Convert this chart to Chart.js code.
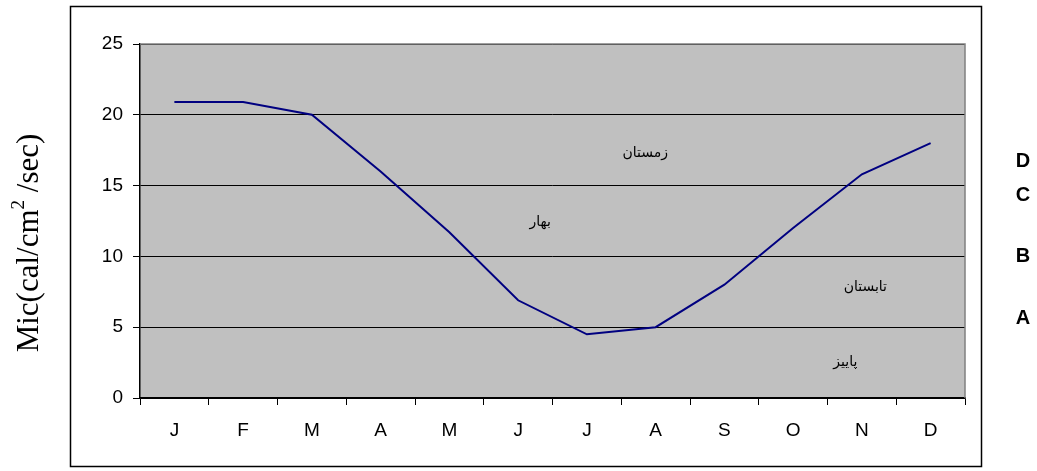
<!DOCTYPE html>
<html>
<head>
<meta charset="utf-8">
<script src="https://cdn.jsdelivr.net/npm/chart.js"></script>
<style>
  html, body { margin: 0; padding: 0; background: #fff; overflow: hidden; }
  #chart { display: block; }
</style>
</head>
<body>
<canvas id="chart" width="1037" height="471"></canvas>
<script>
var months = ['J', 'F', 'M', 'A', 'M', 'J', 'J', 'A', 'S', 'O', 'N', 'D']
var micValues = [20.9, 20.9, 20.0, 16.0, 11.7, 6.9, 4.5, 5.0, 8.0, 12.0, 15.8, 18.0]
var yTicks = [0, 5, 10, 15, 20, 25]

// seasons written inside the plot, at category index / value
var seasonNames = ['زمستان', 'بهار', 'تابستان', 'پاییز']
var seasonX = [6.85, 5.32, 10.05, 9.76]
var seasonY = [17.3, 12.4, 7.8, 2.5]

// letters at the right side, placed at a value on the y scale
var sideLetters = ['D', 'C', 'B', 'A']
var sideLetterY = [16.7, 14.3, 10.0, 5.6]

var decorPlugin = {
  id: 'decor',
  beforeDraw: function (chart) {
    var ctx = chart.ctx
    var a = chart.chartArea
    ctx.save()
    ctx.fillStyle = '#c0c0c0'
    ctx.fillRect(a.left, a.top, a.right - a.left, a.bottom - a.top)
    ctx.restore()
  },
  afterDraw: function (chart) {
    var ctx = chart.ctx
    var a = chart.chartArea
    var xs = chart.scales.x
    var ys = chart.scales.y
    ctx.save()
    // plot frame top and right
    ctx.strokeStyle = '#808080'
    ctx.lineWidth = 1.5
    ctx.beginPath()
    ctx.moveTo(a.left, a.top)
    ctx.lineTo(a.right, a.top)
    ctx.lineTo(a.right, a.bottom)
    ctx.stroke()
    // outer box
    ctx.strokeStyle = '#000'
    ctx.lineWidth = 1.5
    ctx.strokeRect(70.5, 6.5, 911, 460)

    ctx.fillStyle = '#000'
    ctx.font = '14px "DejaVu Sans"'
    ctx.textAlign = 'center'
    ctx.textBaseline = 'middle'
    for (var i = 0; i < seasonNames.length; i++) {
      var px = xs.getPixelForValue(seasonX[i])
      ctx.fillText(seasonNames[i], px, ys.getPixelForValue(seasonY[i]))
    }

    ctx.font = 'bold 20px "Liberation Sans", Arial'
    for (var j = 0; j < sideLetters.length; j++) {
      ctx.fillText(sideLetters[j], 1023, ys.getPixelForValue(sideLetterY[j]))
    }

    // y axis title with a raised 2
    var big = '31px "Liberation Serif", "Times New Roman"'
    var small = '19px "Liberation Serif", "Times New Roman"'
    var p1 = 'Mic(cal/cm'
    var p2 = '2'
    var p3 = ' /sec)'
    ctx.font = big
    var w1 = ctx.measureText(p1).width
    var w3 = ctx.measureText(p3).width
    ctx.font = small
    var w2 = ctx.measureText(p2).width
    var total = w1 + w2 + w3
    ctx.translate(38, 243 + total / 2)
    ctx.rotate(-Math.PI / 2)
    ctx.textAlign = 'left'
    ctx.textBaseline = 'alphabetic'
    ctx.font = big
    ctx.fillText(p1, 0, 0)
    ctx.font = small
    ctx.fillText(p2, w1, -14)
    ctx.font = big
    ctx.fillText(p3, w1 + w2, 0)
    ctx.restore()
  }
}

var ctx = document.getElementById('chart').getContext('2d')
new Chart(ctx, {
  type: 'line',
  data: {
    labels: months,
    datasets: [{
      label: 'Mic',
      data: micValues,
      borderColor: '#000080',
      borderWidth: 2,
      pointRadius: 0,
      tension: 0,
      fill: false
    }]
  },
  options: {
    responsive: false,
    animation: false,
    devicePixelRatio: 1,
    layout: { padding: { left: 0, right: 72, top: 44, bottom: 0 } },
    plugins: {
      legend: { display: false },
      tooltip: { enabled: false }
    },
    scales: {
      x: {
        offset: true,
        afterFit: function (scale) { scale.height = 73 },
        grid: {
          offset: true,
          drawOnChartArea: false,
          drawTicks: true,
          tickLength: 7,
          color: '#000',
          lineWidth: 1
        },
        border: { color: '#000', width: 1.5 },
        ticks: {
          color: '#000',
          padding: 14,
          maxRotation: 0,
          autoSkip: false,
          font: { family: '"Liberation Sans", Arial', size: 19 }
        }
      },
      y: {
        min: 0,
        max: 25,
        afterFit: function (scale) { scale.width = 140 },
        afterBuildTicks: function (scale) {
          scale.ticks = yTicks.map(function (v) { return { value: v } })
        },
        grid: {
          color: '#000',
          lineWidth: 1,
          tickLength: 7
        },
        border: { color: '#000', width: 1.5 },
        ticks: {
          color: '#000',
          padding: 10,
          font: { family: '"Liberation Sans", Arial', size: 19 }
        }
      }
    }
  },
  plugins: [decorPlugin]
})
</script>
</body>
</html>
